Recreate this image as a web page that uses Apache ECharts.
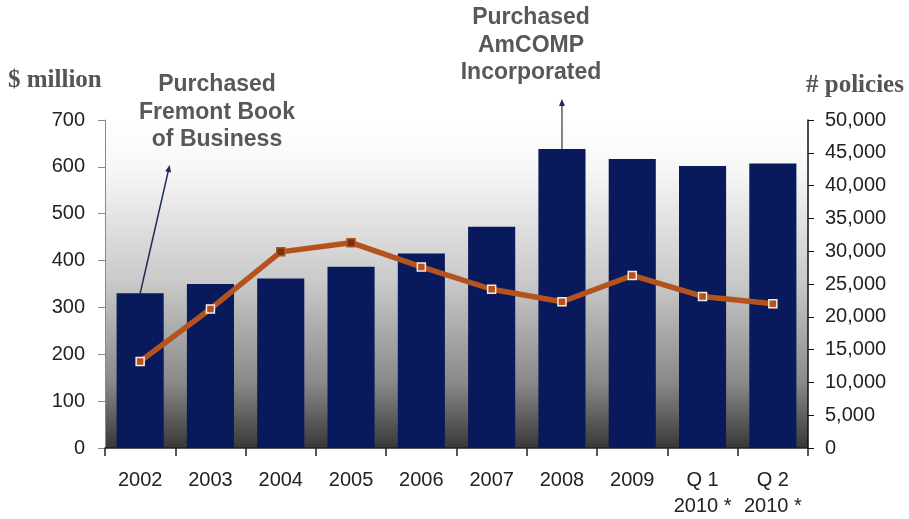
<!DOCTYPE html>
<html>
<head>
<meta charset="utf-8">
<script src="https://cdn.jsdelivr.net/npm/echarts@6/dist/echarts.min.js"></script>
<style>html,body{margin:0;padding:0;background:#fff}#c{width:909px;height:519px}</style>
</head>
<body>
<div id="c"></div>
<script>
var categories = ['2002','2003','2004','2005','2006','2007','2008','2009','Q 1\n2010 *','Q 2\n2010 *'];
var premiumMillions = [330, 350, 362, 387, 415, 472, 638, 617, 602, 607];
var policies = [13200, 21200, 29900, 31300, 27600, 24200, 22300, 26300, 23100, 22000];
var leftTicks = [0, 700, 100];
var rightTicks = [0, 50000, 5000];
var annotations = [
  {cat: 0, from: 330, to: 604, lean: 0.42, text: 'Purchased\nFremont Book\nof Business'},
  {cat: 6, from: 638, to: 745, lean: 0, text: 'Purchased\nAmCOMP\nIncorporated'}
];

var chart = echarts.init(document.getElementById('c'));
var sans = '"Liberation Sans", Arial, sans-serif';
var serif = '"Liberation Serif", "Times New Roman", serif';

var lineData = policies.map(function (v, i) {
  if (i === 2 || i === 3) {
    return {value: v, itemStyle: {color: '#7a2e10', borderColor: '#b5531e'}};
  }
  return v;
});

chart.setOption({
  animation: false,
  backgroundColor: '#fff',
  grid: {
    left: 105, right: 101, top: 120, bottom: 71,
    show: true, borderWidth: 0,
    backgroundColor: new echarts.graphic.LinearGradient(0, 0, 0, 1, [
      {offset: 0, color: '#ffffff'},
      {offset: 0.15, color: '#f7f7f7'},
      {offset: 0.5, color: '#c8c8c8'},
      {offset: 0.8, color: '#898989'},
      {offset: 1, color: '#383838'}
    ])
  },
  xAxis: {
    type: 'category',
    data: categories,
    boundaryGap: true,
    axisLine: {lineStyle: {color: '#222', width: 1.5}},
    axisTick: {show: true, interval: 0, length: 8, lineStyle: {color: '#222', width: 1.5}},
    axisLabel: {interval: 0, hideOverlap: false, color: '#222', fontFamily: sans, fontSize: 20, margin: 20, lineHeight: 25.5}
  },
  yAxis: [{
    type: 'value', min: leftTicks[0], max: leftTicks[1], interval: leftTicks[2],
    splitLine: {show: false},
    axisLine: {show: true, lineStyle: {color: '#888', width: 1}},
    axisTick: {show: true, length: 7, lineStyle: {color: '#888'}},
    axisLabel: {color: '#222', fontFamily: sans, fontSize: 20, margin: 20}
  }, {
    type: 'value', min: rightTicks[0], max: rightTicks[1], interval: rightTicks[2],
    position: 'right',
    splitLine: {show: false},
    axisLine: {show: true, lineStyle: {color: '#111', width: 1.5}},
    axisTick: {show: true, length: 6, lineStyle: {color: '#111'}},
    axisLabel: {color: '#222', fontFamily: sans, fontSize: 20, margin: 17,
      formatter: function (v) { return v.toLocaleString('en-US'); }}
  }],
  series: [{
    type: 'bar',
    data: premiumMillions,
    yAxisIndex: 0,
    barCategoryGap: '33%',
    itemStyle: {color: '#08195c'}
  }, {
    type: 'line',
    data: lineData,
    yAxisIndex: 1,
    symbol: 'rect',
    symbolSize: 8,
    lineStyle: {color: '#b5531e', width: 5.5},
    itemStyle: {color: '#b5531e', borderColor: '#f6e8e2', borderWidth: 1.5}
  }],
  graphic: [
    {type: 'text', x: 8, y: 81, style: {text: '$ million', font: 'bold 25px ' + serif, fill: '#555', verticalAlign: 'middle'}},
    {type: 'text', x: 806, y: 86, style: {text: '# policies', font: 'bold 25px ' + serif, fill: '#555', verticalAlign: 'middle'}}
  ]
});

// annotations through the chart's own coordinate conversion
var extra = [];
var textCenters = [[217, 112.5], [531, 45.5]];
annotations.forEach(function (a, k) {
  var p0 = chart.convertToPixel({xAxisIndex: 0, yAxisIndex: 0}, [a.cat, a.from]);
  var p1 = chart.convertToPixel({xAxisIndex: 0, yAxisIndex: 0}, [a.cat, a.to]);
  var pNext = chart.convertToPixel({xAxisIndex: 0, yAxisIndex: 0}, [a.cat + 1, a.from]);
  var band = pNext[0] - p0[0];
  var x1 = p1[0] + a.lean * band, y1 = p1[1];
  var dx = x1 - p0[0], dy = y1 - p0[1], len = Math.sqrt(dx * dx + dy * dy);
  var ux = dx / len, uy = dy / len, hl = 7, hw = 3;
  extra.push({type: 'line', shape: {x1: p0[0], y1: p0[1], x2: x1 - ux * 3, y2: y1 - uy * 3},
    style: {stroke: k === 0 ? '#1c2a55' : '#555c70', lineWidth: 1.5}, z: 10});
  extra.push({type: 'polygon', shape: {points: [
      [x1, y1],
      [x1 - ux * hl - uy * hw, y1 - uy * hl + ux * hw],
      [x1 - ux * hl + uy * hw, y1 - uy * hl - ux * hw]
    ]}, style: {fill: '#1c2a55'}, z: 10});
  extra.push({type: 'text', x: textCenters[k][0], y: textCenters[k][1], z: 10,
    style: {text: a.text, font: 'bold 23px ' + sans, fill: '#585858', align: 'center', verticalAlign: 'middle', lineHeight: 27.5}});
});
chart.setOption({graphic: chart.getOption().graphic[0].elements.concat(extra)});
</script>
</body>
</html>
